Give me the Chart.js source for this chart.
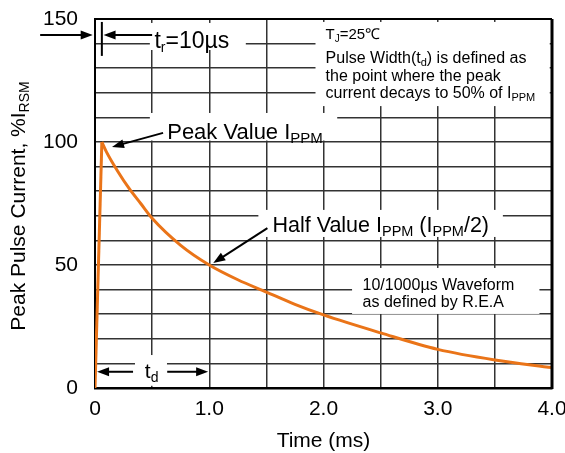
<!DOCTYPE html>
<html>
<head>
<meta charset="utf-8">
<script src="https://cdn.jsdelivr.net/npm/chart.js@4/dist/chart.umd.min.js"></script>
<style>
  html, body { margin: 0; padding: 0; background: #fff; }
</style>
</head>
<body>
<canvas id="pulse-graph" width="565" height="453"></canvas>
<script>
// Data ---------------------------------------------------------------------
const riseTime = [0, 0.06];
const riseValue = [0, 100];
const decayTime = [0.06, 0.1, 0.2, 0.3, 0.4, 0.5, 0.75, 1.0, 1.25, 1.5, 1.75, 2.0, 2.5, 3.0, 3.5, 4.0];
const decayValue = [100, 96, 88, 81, 75, 69, 58, 50, 44, 39, 34, 29.7, 22.4, 15.7, 11.4, 8.3];
const xLabelled = [0, 1, 2, 3, 4];
const yLabelled = [0, 50, 100, 150];

const ORANGE = '#EA7418';
const FAMILY = '"Liberation Sans", Arial, sans-serif';
const font = (size) => size + 'px ' + FAMILY;

// draw text made of parts (for subscripts)---------------------------------
function rich(ctx, parts, x, y) {
    let cx = x;
    parts.forEach(p => {
        ctx.font = font(p.size);
        ctx.fillText(p.text, cx, y + (p.dy || 0));
        cx += ctx.measureText(p.text).width;
    });
}

function richWidth(ctx, parts) {
    let w = 0;
    parts.forEach(p => {
        ctx.font = font(p.size);
        w += ctx.measureText(p.text).width;
    });
    return w;
}

// arrow with filled head at (x2, y2)----------------------------------------
function arrow(ctx, x1, y1, x2, y2) {
    const a = Math.atan2(y2 - y1, x2 - x1);
    const L = 12, W = 4.5;
    const c = Math.cos(a), s = Math.sin(a);
    ctx.beginPath();
    ctx.moveTo(x1, y1);
    ctx.lineTo(x2 - L * 0.8 * c, y2 - L * 0.8 * s);
    ctx.lineWidth = 2;
    ctx.stroke();
    ctx.beginPath();
    ctx.moveTo(x2, y2);
    ctx.lineTo(x2 - L * c + W * s, y2 - L * s - W * c);
    ctx.lineTo(x2 - L * c - W * s, y2 - L * s + W * c);
    ctx.closePath();
    ctx.fill();
}

const notes = {
    id: 'notes',
    afterDraw(chart) {
        const ctx = chart.ctx;
        const xs = chart.scales.x, ys = chart.scales.y;
        const px = (v) => xs.getPixelForValue(v);
        const py = (v) => ys.getPixelForValue(v);
        const area = chart.chartArea;

        ctx.save();
        // white boxes behind labels
        ctx.fillStyle = '#fff';
        const box = (x1, x2, y1, y2) => ctx.fillRect(px(x1), py(y1), px(x2) - px(x1), py(y2) - py(y1));
        box(0.48, 1.32, 148.4, 137.4);
        box(0.48, 2.12, 111.8, 100.6);
        box(1.93, 3.98, 148.8, 114.6);
        box(1.43, 3.57, 72.4, 61.4);
        box(2.25, 3.89, 48.8, 30.1);
        box(0.35, 0.63, 13.4, 0.9);

        // frame: top and right edges
        ctx.strokeStyle = '#000';
        ctx.lineWidth = 2;
        ctx.beginPath();
        ctx.moveTo(area.left, area.top);
        ctx.lineTo(area.right, area.top);
        ctx.stroke();
        ctx.lineWidth = 3;
        ctx.beginPath();
        ctx.moveTo(area.right, area.top);
        ctx.lineTo(area.right, area.bottom + 1);
        ctx.stroke();

        ctx.fillStyle = '#000';
        ctx.strokeStyle = '#000';
        ctx.textBaseline = 'alphabetic';
        ctx.textAlign = 'left';

        // rise time marker
        arrow(ctx, px(-0.48), py(143.5), px(-0.02), py(143.5));
        ctx.lineWidth = 2;
        ctx.beginPath();
        ctx.moveTo(px(0.06), py(148.8));
        ctx.lineTo(px(0.06), py(135));
        ctx.stroke();
        arrow(ctx, px(0.5), py(143.5), px(0.075), py(143.5));
        rich(ctx, [{text: 't', size: 23}, {text: 'r', size: 14, dy: 4}, {text: '=10µs', size: 23}], px(0.52), py(138.2));

        // peak value
        rich(ctx, [{text: 'Peak Value I', size: 22}, {text: 'PPM', size: 15, dy: 4}], px(0.632), py(101.2));
        arrow(ctx, px(0.596), py(103.7), px(0.149), py(98));

        // conditions box
        rich(ctx, [{text: 'T', size: 15}, {text: 'J', size: 10, dy: 3}, {text: '=25℃', size: 15}], px(2.018), py(141.9));
        rich(ctx, [{text: 'Pulse Width(t', size: 16}, {text: 'd', size: 11, dy: 3}, {text: ') is defined as', size: 16}], px(2.018), py(132.1));
        rich(ctx, [{text: 'the point where the peak', size: 16}], px(2.018), py(124.8));
        rich(ctx, [{text: 'current decays to 50% of I', size: 16}, {text: 'PPM', size: 11, dy: 3}], px(2.018), py(118));

        // half value
        rich(ctx, [
            {text: 'Half Value I', size: 21.5}, {text: 'PPM', size: 14.5, dy: 4},
            {text: ' (I', size: 21.5}, {text: 'PPM', size: 14.5, dy: 4}, {text: '/2)', size: 21.5}
        ], px(1.553), py(63.4));
        arrow(ctx, px(1.509), py(65.0), px(1.035), py(50.8));

        // waveform note
        rich(ctx, [{text: '10/1000µs Waveform', size: 16}], px(2.342), py(39.8));
        rich(ctx, [{text: 'as defined by R.E.A', size: 16}], px(2.342), py(32.9));

        // t_d span
        arrow(ctx, px(0.333), py(6.6), px(0.018), py(6.6));
        arrow(ctx, px(0.632), py(6.6), px(0.99), py(6.6));
        rich(ctx, [{text: 't', size: 21}, {text: 'd', size: 14, dy: 4}], px(0.436), py(4.1));

        // axis titles
        ctx.fillStyle = '#000';
        ctx.font = font(21);
        ctx.textAlign = 'center';
        ctx.fillText('Time (ms)', (area.left + area.right) / 2, 447);

        const yTitle = [{text: 'Peak Pulse Current, %I', size: 21}, {text: 'RSM', size: 14, dy: 4}];
        ctx.textAlign = 'left';
        ctx.translate(25, 206);
        ctx.rotate(-Math.PI / 2);
        rich(ctx, yTitle, -richWidth(ctx, yTitle) / 2, 0);
        ctx.restore();
    }
};

const ctx = document.querySelector('#pulse-graph').getContext('2d');

new Chart(ctx, {
    type: 'scatter',
    data: {
        datasets: [{
            data: riseTime.map((t, i) => ({x: t, y: riseValue[i]})),
            showLine: true,
            borderColor: ORANGE,
            borderWidth: 3,
            pointRadius: 0,
            tension: 0
        }, {
            data: decayTime.map((t, i) => ({x: t, y: decayValue[i]})),
            showLine: true,
            borderColor: ORANGE,
            borderWidth: 3,
            pointRadius: 0,
            cubicInterpolationMode: 'monotone'
        }]
    },
    options: {
        responsive: false,
        animation: false,
        layout: {
            padding: {left: 0, top: 19, right: 13, bottom: 0}
        },
        scales: {
            x: {
                type: 'linear',
                min: 0,
                max: 4,
                afterFit: (scale) => {
                    scale.height = 65;
                    scale.paddingLeft = 0;
                    scale.paddingRight = 0;
                },
                ticks: {
                    stepSize: 0.5,
                    autoSkip: false,
                    maxRotation: 0,
                    padding: 9,
                    color: '#000',
                    font: {family: FAMILY, size: 21},
                    callback: (v) => xLabelled.includes(v) ? (v === 0 ? '0' : v.toFixed(1)) : ''
                },
                grid: {
                    color: '#333',
                    lineWidth: 1.5,
                    drawTicks: false
                },
                border: {color: '#000', width: 2.5}
            },
            y: {
                min: 0,
                max: 150,
                afterFit: (scale) => {
                    scale.width = 95;
                    scale.paddingTop = 0;
                    scale.paddingBottom = 0;
                },
                ticks: {
                    stepSize: 10,
                    autoSkip: false,
                    padding: 17,
                    color: '#000',
                    font: {family: FAMILY, size: 21},
                    callback: (v) => yLabelled.includes(v) ? String(v) : ''
                },
                grid: {
                    color: '#333',
                    lineWidth: 1.5,
                    drawTicks: false
                },
                border: {color: '#000', width: 2}
            }
        },
        plugins: {
            legend: {display: false},
            tooltip: {enabled: false}
        }
    },
    plugins: [notes]
});
</script>
</body>
</html>
